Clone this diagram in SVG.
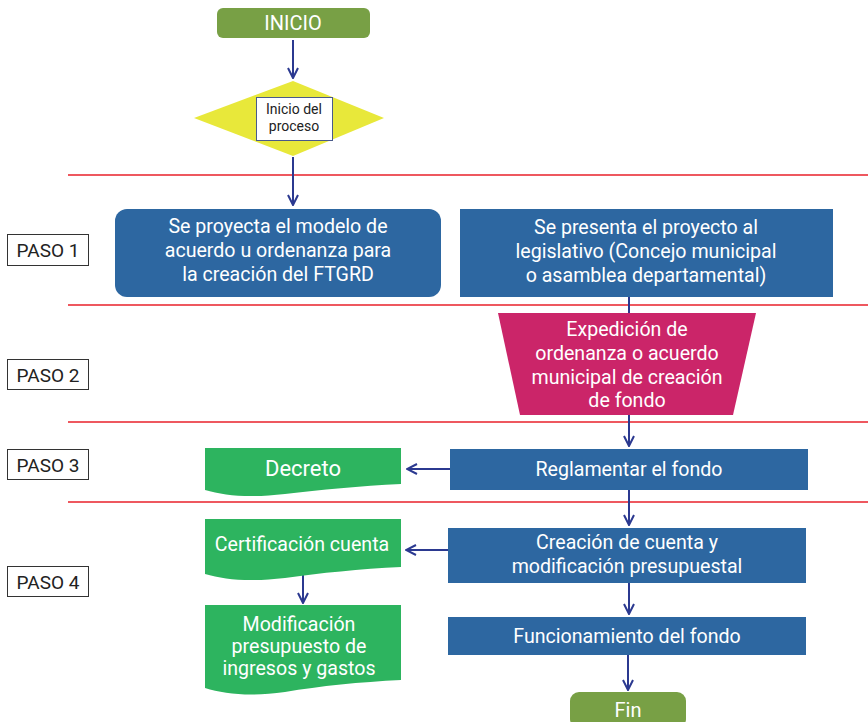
<svg xmlns="http://www.w3.org/2000/svg" width="868" height="722" viewBox="0 0 868 722">
<defs>
<marker id="ah" viewBox="0 0 12 12" refX="11" refY="6" markerWidth="12" markerHeight="12" markerUnits="userSpaceOnUse" orient="auto">
<polyline points="1,1 11,6 1,11" fill="none" stroke="#2b3990" stroke-width="2"/>
</marker>
<style>
text{font-family:Roboto,"Liberation Sans",sans-serif;text-anchor:middle}
.w{fill:#fff;font-size:19.6px}
.blue{fill:#2d67a1}
.green{fill:#2db45f}
.olive{fill:#78a045}
.sep{stroke:#e8202a;stroke-width:1.5}
.con{stroke:#2b3990;stroke-width:2;fill:none}
.paso{fill:#fff;stroke:#333;stroke-width:1}
.pt{font-size:19px;fill:#222}
</style>
</defs>
<rect width="868" height="722" fill="#fff"/>
<g id="separators">
<line class="sep" x1="68" y1="175" x2="868" y2="175"/>
<line class="sep" x1="68" y1="305" x2="868" y2="305"/>
<line class="sep" x1="68" y1="422" x2="868" y2="422"/>
<line class="sep" x1="68" y1="502" x2="868" y2="502"/>
</g>
<g id="paso1"><rect class="paso" x="7.5" y="234.5" width="81" height="31"/><text class="pt" x="48" y="257">PASO 1</text></g>
<g id="paso2"><rect class="paso" x="7.5" y="359.5" width="81" height="30"/><text class="pt" x="48" y="382">PASO 2</text></g>
<g id="paso3"><rect class="paso" x="7.5" y="449.5" width="81" height="30"/><text class="pt" x="48" y="472">PASO 3</text></g>
<g id="paso4"><rect class="paso" x="7.5" y="566.5" width="81" height="30"/><text class="pt" x="48" y="589">PASO 4</text></g>
<g id="connectors">
<line class="con" x1="293" y1="40" x2="293" y2="78" marker-end="url(#ah)"/>
<line class="con" x1="293" y1="157" x2="293" y2="205" marker-end="url(#ah)"/>
<line class="con" x1="629" y1="297" x2="629" y2="314"/>
<line class="con" x1="629" y1="415" x2="629" y2="446" marker-end="url(#ah)"/>
<line class="con" x1="450" y1="469" x2="407" y2="469" marker-end="url(#ah)"/>
<line class="con" x1="629" y1="490" x2="629" y2="525" marker-end="url(#ah)"/>
<line class="con" x1="448" y1="550" x2="406" y2="550" marker-end="url(#ah)"/>
<line class="con" x1="303" y1="559" x2="303" y2="603" marker-end="url(#ah)"/>
<line class="con" x1="629" y1="583" x2="629" y2="614" marker-end="url(#ah)"/>
<line class="con" x1="628" y1="655" x2="628" y2="690" marker-end="url(#ah)"/>
</g>
<g id="inicio"><rect class="olive" x="217" y="8" width="153" height="30" rx="6"/><text x="293" y="30" fill="#fff" font-size="20">INICIO</text></g>
<g id="decision">
<polygon points="293,81 384,118 293,156 194,118" fill="#e8e83a"/>
<rect x="256.5" y="97.5" width="76" height="43" fill="#fff" stroke="#4a5a8a" stroke-width="1"/>
<text x="294" y="114" font-size="14" fill="#222">Inicio del</text>
<text x="294" y="131" font-size="14" fill="#222">proceso</text>
</g>
<g id="proyecta"><rect class="blue" x="115" y="209" width="326" height="88" rx="12"/>
<text class="w" x="278" y="233">Se proyecta el modelo de</text>
<text class="w" x="278" y="257">acuerdo u ordenanza para</text>
<text class="w" x="278" y="281">la creación del FTGRD</text></g>
<g id="presenta"><rect class="blue" x="460" y="209" width="373" height="88"/>
<text class="w" x="646" y="234">Se presenta el proyecto al</text>
<text class="w" x="646" y="258">legislativo (Concejo municipal</text>
<text class="w" x="646" y="282">o asamblea departamental)</text></g>
<g id="expedicion"><polygon points="498,313 756,313 733,415 520,415" fill="#cb2569"/>
<text class="w" x="627" y="336">Expedición de</text>
<text class="w" x="627" y="360">ordenanza o acuerdo</text>
<text class="w" x="627" y="384">municipal de creación</text>
<text class="w" x="627" y="407">de fondo</text></g>
<g id="reglamentar"><rect class="blue" x="450" y="449" width="358" height="41"/>
<text class="w" x="629" y="476">Reglamentar el fondo</text></g>
<g id="decreto"><path class="green" d="M205,448 H401 V484 C360,486 320,490 285,494 C250,498 225,496 205,490 Z"/>
<text x="303" y="476" fill="#fff" font-size="22">Decreto</text></g>
<g id="creacion"><rect class="blue" x="448" y="528" width="358" height="55"/>
<text class="w" x="627" y="549">Creación de cuenta y</text>
<text class="w" x="627" y="573">modificación presupuestal</text></g>
<g id="certificacion"><path class="green" d="M205,519 H401 V567 C360,569 320,573 285,578 C250,582 225,580 205,574 Z"/>
<text class="w" x="302" y="551">Certificación cuenta</text></g>
<g id="modificacion"><path class="green" d="M205,605 H401 V680 C360,682 320,686 285,692 C250,697 225,694 205,688 Z"/>
<text class="w" x="299" y="631">Modificación</text>
<text class="w" x="299" y="653">presupuesto de</text>
<text class="w" x="299" y="675">ingresos y gastos</text></g>
<g id="funcionamiento"><rect class="blue" x="448" y="617" width="358" height="38"/>
<text class="w" x="627" y="643">Funcionamiento del fondo</text></g>
<g id="fin"><rect class="olive" x="570" y="692" width="116" height="36" rx="9"/>
<text x="628" y="717" fill="#fff" font-size="20">Fin</text></g>
</svg>
